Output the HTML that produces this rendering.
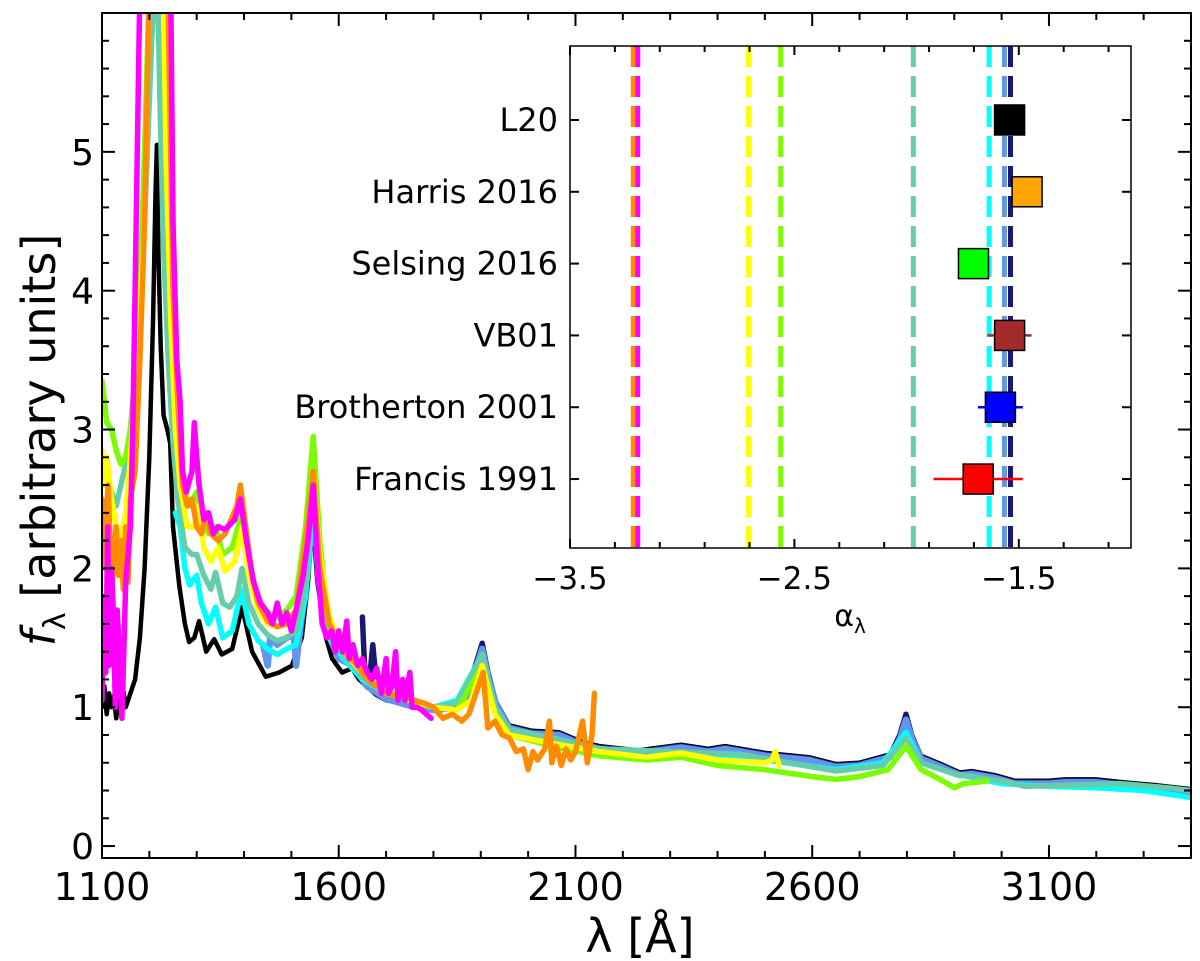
<!DOCTYPE html>
<html><head><meta charset="utf-8">
<style>
html,body{margin:0;padding:0;background:#fff;}
svg{display:block;font-family:"DejaVu Sans","Liberation Sans",sans-serif;}
</style></head>
<body>
<svg id="chart" width="1200" height="961" viewBox="0 0 1200 961" xmlns="http://www.w3.org/2000/svg">
<defs>
<clipPath id="mainclip"><rect x="102" y="13" width="1089" height="845"/></clipPath>
<clipPath id="insetclip"><rect x="570" y="46" width="561" height="502"/></clipPath>
</defs>
<g id="main"></g>
<g id="inset"></g>
</svg>
<script>
// ---------- main chart data ----------
const seriesNames = ['L20','navy-template','cornflower-template','cyan-template','aquamarine-template','green-template','yellow-template','orange-template','magenta-template'];
const seriesColors = ['#000000','#191970','#6495ed','#00ffff','#66cdaa','#7cfc00','#ffff00','#ff8c00','#ff00ff'];
const seriesWidths = [4.5,5.5,6.5,5.5,5.5,5.5,5.5,5.5,5.5];
const blackData = [[1100,1.00],[1105,1.15],[1110,0.95],[1115,1.1],[1120,1.0],[1125,1.08],[1130,0.92],[1135,1.05],[1140,0.98],[1145,1.12],[1150,1.0],[1160,1.1],[1170,1.2],[1180,1.5],[1190,2.0],[1200,2.8],[1208,3.8],[1213,4.7],[1216,5.05],[1219,4.3],[1224,3.6],[1230,3.1],[1238,3.0],[1244,2.9],[1250,2.3],[1263,1.88],[1275,1.6],[1284,1.47],[1295,1.5],[1305,1.62],[1320,1.40],[1337,1.49],[1353,1.38],[1375,1.42],[1396,1.72],[1417,1.40],[1446,1.22],[1474,1.25],[1501,1.30],[1522,1.5],[1535,1.9],[1545,2.36],[1555,1.9],[1573,1.5],[1586,1.35],[1607,1.25],[1628,1.28],[1643,1.2],[1679,1.09],[1700,1.05],[1748,1.02],[1800,0.99],[1833,1.0],[1869,1.09],[1890,1.25],[1903,1.43],[1915,1.25],[1932,1.04],[1960,0.87],[2008,0.83],[2065,0.82],[2114,0.75],[2150,0.72],[2232,0.69],[2323,0.73],[2380,0.70],[2416,0.72],[2502,0.67],[2593,0.64],[2650,0.59],[2699,0.60],[2764,0.66],[2785,0.78],[2798,0.93],[2810,0.8],[2830,0.65],[2872,0.59],[2912,0.53],[2937,0.54],[2986,0.51],[3028,0.47],[3100,0.47],[3134,0.48],[3199,0.48],[3256,0.46],[3322,0.44],[3400,0.41]];
const navyData = [[1650,1.65],[1655,1.25],[1665,1.2],[1672,1.45],[1680,1.15],[1700,1.07],[1750,1.02],[1800,0.99],[1830,1.0],[1870,1.09],[1903,1.46],[1915,1.25],[1932,1.03],[1960,0.86],[2008,0.82],[2065,0.81],[2114,0.74],[2150,0.71],[2232,0.68],[2323,0.72],[2380,0.69],[2416,0.71],[2502,0.66],[2593,0.63],[2650,0.58],[2699,0.59],[2764,0.65],[2785,0.8],[2798,0.95],[2810,0.8],[2830,0.64],[2872,0.58],[2912,0.52],[2937,0.53],[2986,0.50],[3028,0.46],[3100,0.46],[3134,0.47],[3199,0.47],[3256,0.45],[3322,0.43],[3400,0.40]];
const cornflowerData = [[1440,1.45],[1450,1.3],[1455,1.5],[1470,1.45],[1490,1.5],[1505,1.52],[1510,1.3],[1520,1.6],[1535,2.0],[1546,2.5],[1558,1.9],[1575,1.55],[1600,1.35],[1630,1.3],[1660,1.15],[1700,1.06],[1750,1.01],[1800,0.98],[1830,0.99],[1870,1.07],[1903,1.42],[1915,1.22],[1932,1.02],[1960,0.85],[2008,0.81],[2065,0.8],[2114,0.73],[2150,0.70],[2232,0.67],[2323,0.71],[2380,0.68],[2416,0.70],[2502,0.65],[2593,0.62],[2650,0.57],[2699,0.58],[2764,0.64],[2785,0.77],[2798,0.91],[2810,0.78],[2830,0.63],[2872,0.57],[2912,0.51],[2937,0.52],[2986,0.49],[3028,0.45],[3100,0.45],[3134,0.46],[3199,0.46],[3256,0.44],[3322,0.42],[3400,0.39]];
const cyanData = [[1255,2.4],[1265,2.3],[1275,2.0],[1285,1.88],[1300,1.95],[1310,1.75],[1325,1.6],[1340,1.72],[1355,1.5],[1375,1.55],[1395,1.85],[1410,1.6],[1430,1.48],[1450,1.42],[1470,1.38],[1490,1.42],[1510,1.45],[1530,1.8],[1546,2.5],[1560,1.9],[1580,1.5],[1610,1.35],[1650,1.2],[1700,1.1],[1750,1.05],[1800,1.0],[1850,1.05],[1903,1.38],[1930,1.0],[1960,0.84],[2050,0.78],[2150,0.70],[2300,0.68],[2500,0.62],[2650,0.55],[2750,0.6],[2798,0.82],[2830,0.6],[2900,0.52],[3000,0.45],[3100,0.43],[3200,0.42],[3300,0.40],[3400,0.35]];
const tealData = [[1100,2.7],[1110,2.6],[1120,2.55],[1130,2.45],[1140,2.6],[1150,2.75],[1160,3.0],[1175,3.6],[1190,4.5],[1205,5.8],[1216,6.5],[1222,5.4],[1230,4.3],[1240,3.5],[1250,2.9],[1260,2.5],[1275,2.15],[1290,2.1],[1300,2.1],[1315,1.95],[1330,1.85],[1340,1.97],[1355,1.75],[1370,1.72],[1385,1.8],[1396,2.0],[1410,1.75],[1430,1.6],[1450,1.52],[1470,1.48],[1490,1.5],[1510,1.55],[1530,1.9],[1546,2.6],[1560,1.95],[1580,1.55],[1610,1.38],[1650,1.22],[1700,1.1],[1750,1.05],[1800,1.0],[1850,1.03],[1903,1.38],[1930,1.0],[1960,0.84],[2050,0.78],[2150,0.7],[2300,0.68],[2450,0.66],[2550,0.6],[2650,0.54],[2750,0.58],[2798,0.78],[2830,0.6],[2900,0.52],[3000,0.47],[3050,0.43],[3150,0.44],[3250,0.45],[3350,0.42],[3400,0.40]];
const greenData = [[1100,3.35],[1105,3.2],[1110,3.05],[1120,3.0],[1130,2.85],[1140,2.75],[1150,2.8],[1160,3.0],[1170,3.3],[1180,4.0],[1190,5.0],[1200,6.2],[1216,7.0],[1230,6.2],[1240,4.5],[1250,3.4],[1260,2.9],[1270,2.6],[1285,2.45],[1300,2.55],[1310,2.35],[1325,2.25],[1340,2.3],[1355,2.1],[1375,2.15],[1396,2.4],[1410,2.0],[1430,1.75],[1450,1.68],[1470,1.65],[1490,1.7],[1510,1.8],[1530,2.3],[1546,2.95],[1560,2.2],[1575,1.7],[1600,1.45],[1640,1.3],[1650,1.25],[1700,1.12],[1750,1.05],[1800,1.0],[1850,0.98],[1903,1.3],[1930,0.95],[1960,0.8],[2050,0.72],[2150,0.65],[2250,0.62],[2323,0.64],[2400,0.58],[2500,0.55],[2600,0.5],[2650,0.48],[2700,0.5],[2760,0.55],[2798,0.72],[2830,0.55],[2870,0.48],[2900,0.42],[2920,0.45],[2950,0.46],[2970,0.47]];
const yellowData = [[1100,2.85],[1105,2.6],[1110,2.8],[1120,2.5],[1130,2.3],[1140,2.2],[1150,2.4],[1160,2.8],[1175,3.5],[1190,4.5],[1200,6.2],[1216,7.0],[1230,6.2],[1235,5.0],[1245,3.8],[1255,3.0],[1265,2.6],[1280,2.3],[1295,2.3],[1305,2.45],[1315,2.15],[1330,2.05],[1345,2.15],[1360,1.98],[1380,2.05],[1396,2.3],[1410,1.95],[1430,1.7],[1450,1.6],[1470,1.58],[1490,1.62],[1510,1.7],[1530,2.15],[1546,2.7],[1560,2.1],[1580,1.65],[1610,1.4],[1650,1.25],[1700,1.12],[1750,1.05],[1800,1.0],[1850,0.98],[1880,1.05],[1903,1.3],[1930,0.95],[1960,0.8],[2050,0.74],[2150,0.68],[2250,0.64],[2323,0.67],[2400,0.62],[2500,0.6],[2515,0.62],[2522,0.68],[2530,0.58]];
const orangeData = [[1100,2.5],[1103,2.2],[1106,2.0],[1110,2.4],[1113,2.6],[1117,2.2],[1120,1.8],[1125,2.1],[1130,2.3],[1135,1.95],[1140,2.2],[1145,1.85],[1150,2.3],[1155,1.9],[1160,2.5],[1170,2.7],[1180,3.5],[1190,4.5],[1200,6.2],[1216,7.0],[1240,6.0],[1250,4.0],[1260,3.2],[1270,2.6],[1280,2.45],[1290,2.5],[1300,2.3],[1310,2.25],[1320,2.4],[1330,2.25],[1345,2.2],[1360,2.25],[1385,2.45],[1392,2.6],[1400,2.4],[1415,2.0],[1430,1.75],[1450,1.62],[1470,1.58],[1490,1.6],[1510,1.7],[1530,2.2],[1546,2.7],[1560,2.0],[1580,1.6],[1610,1.4],[1640,1.3],[1660,1.2],[1680,1.15],[1700,1.1],[1720,1.08],[1750,1.06],[1780,1.03],[1800,1.0],[1820,0.92],[1840,0.95],[1860,0.9],[1875,0.95],[1890,1.1],[1905,1.25],[1910,1.05],[1915,0.85],[1930,0.9],[1945,0.8],[1960,0.78],[1975,0.68],[1990,0.7],[2000,0.55],[2010,0.68],[2020,0.62],[2035,0.7],[2045,0.9],[2050,0.6],[2060,0.72],[2070,0.58],[2080,0.7],[2090,0.62],[2100,0.68],[2115,0.9],[2125,0.6],[2135,0.8],[2140,1.1]];
const magentaData = [[1100,1.05],[1105,1.8],[1108,1.25],[1112,2.3],[1115,1.3],[1120,2.0],[1125,1.6],[1128,1.0],[1132,1.7],[1138,1.3],[1142,0.92],[1146,1.4],[1150,1.9],[1160,2.3],[1165,3.0],[1170,4.0],[1180,6.2],[1216,7.5],[1245,6.2],[1250,4.5],[1258,3.5],[1265,3.2],[1270,2.7],[1278,2.55],[1290,2.7],[1295,3.05],[1300,2.8],[1305,2.6],[1315,2.35],[1325,2.4],[1335,2.25],[1345,2.3],[1360,2.28],[1380,2.35],[1392,2.5],[1405,2.2],[1420,1.9],[1435,1.75],[1450,1.68],[1460,1.6],[1470,1.75],[1480,1.6],[1490,1.68],[1500,1.55],[1510,1.7],[1525,1.95],[1535,2.2],[1546,2.6],[1556,2.0],[1565,1.6],[1575,1.5],[1585,1.55],[1593,1.4],[1600,1.55],[1608,1.4],[1617,1.62],[1622,1.35],[1630,1.45],[1640,1.3],[1650,1.35],[1660,1.25],[1670,1.2],[1680,1.28],[1690,1.1],[1700,1.35],[1705,1.1],[1712,1.15],[1720,1.4],[1725,1.05],[1735,1.2],[1740,1.05],[1750,1.25],[1755,1.0],[1765,1.0],[1775,0.98],[1785,0.95],[1795,0.92]];
const seriesData = [blackData,navyData,cornflowerData,cyanData,tealData,greenData,yellowData,orangeData,magentaData];
const xTickLabels = [1100,1600,2100,2600,3100];
const yTickLabels = [0,1,2,3,4,5];

// ---------- inset data ----------
const insetCategories = ['Francis 1991','Brotherton 2001','VB01','Selsing 2016','Harris 2016','L20'];
const insetValues = [-1.681,-1.582,-1.541,-1.702,-1.463,-1.541];
const insetErrLow = [0.199,0.10,0.098,0,0,0];
const insetErrHigh = [0.199,0.10,0.098,0,0,0];
const insetColors = ['#ff0000','#0000ff','#a52a2a','#00ff00','#ffa500','#000000'];
const insetErrColors = ['#ff0000','#0000ff','#a52a2a','#00ff00','#ffa500','#000000'];
const vlineValues = [-3.218,-3.198,-2.704,-2.561,-1.970,-1.632,-1.564,-1.537];
const vlineColors = ['#ff8c00','#ff00ff','#ffff00','#7cfc00','#66cdaa','#00ffff','#6495ed','#191970'];
const insetXTicks = [-3.5,-2.5,-1.5];

const NS='http://www.w3.org/2000/svg';
function mk(tag, attrs, parent){const e=document.createElementNS(NS,tag);for(const k in attrs)e.setAttribute(k,attrs[k]);parent.appendChild(e);return e;}

// main axes
const M={l:102,r:1191,t:13,b:858,x0:1100,x1:3400,y0:-0.086,y1:6.0};
const xs=v=>M.l+(v-M.x0)/(M.x1-M.x0)*(M.r-M.l);
const ys=v=>M.b-(v-M.y0)/(M.y1-M.y0)*(M.b-M.t);
const main=document.getElementById('main');
const lines=mk('g',{'clip-path':'url(#mainclip)'},main);


seriesData.forEach((d,i)=>{
  const p=mk('path',{d:d.map((pt,j)=>(j?'L':'M')+xs(pt[0]).toFixed(1)+','+ys(pt[1]).toFixed(1)).join(''),fill:'none',stroke:seriesColors[i],'stroke-width':seriesWidths[i],'stroke-linejoin':'round','stroke-linecap':'round'},lines);
  
  
});
const frame=mk('rect',{x:M.l,y:M.t,width:M.r-M.l,height:M.b-M.t,fill:'none',stroke:'#000','stroke-width':2},main);


for(let v=1100;v<=3400;v+=100){
  const x=xs(v);const maj=(v-1100)%500===0;const L=maj?13:7;
  mk('line',{x1:x,x2:x,y1:M.b,y2:M.b-L,stroke:'#000','stroke-width':2},main);
  mk('line',{x1:x,x2:x,y1:M.t,y2:M.t+L,stroke:'#000','stroke-width':2},main);
}
xTickLabels.forEach(v=>{const t=mk('text',{x:xs(v),y:900,'font-size':38,'text-anchor':'middle'},main);t.textContent=v;
  
  });
for(let k=0;k<=30;k++){
  const v=k*0.2;const y=ys(v);const maj=k%5===0;const L=maj?13:7;
  mk('line',{x1:M.l,x2:M.l+L,y1:y,y2:y,stroke:'#000','stroke-width':2},main);
  mk('line',{x1:M.r,x2:M.r-L,y1:y,y2:y,stroke:'#000','stroke-width':2},main);
}
yTickLabels.forEach(v=>{const t=mk('text',{x:94,y:ys(v)+13,'font-size':36,'text-anchor':'end'},main);t.textContent=v;
  
  });
const xl=mk('text',{x:640,y:952,'font-size':46,'text-anchor':'middle'},main);xl.textContent='λ [Å]';


const yl=mk('text',{x:0,y:0,'font-size':46,'text-anchor':'middle',transform:'translate(55,440) rotate(-90)'},main);
yl.innerHTML='<tspan font-style="italic">f</tspan><tspan font-size="30" dy="10">λ</tspan><tspan dy="-10"> [arbitrary units]</tspan>';



// inset
const I={l:570,r:1131,t:46,b:548,x0:-3.5,x1:-1.0,y0:-0.96,y1:6.03};
const ix=v=>I.l+(v-I.x0)/(I.x1-I.x0)*(I.r-I.l);
const iy=v=>I.b-(v-I.y0)/(I.y1-I.y0)*(I.b-I.t);
const inset=document.getElementById('inset');
const bg=mk('rect',{x:I.l,y:I.t,width:I.r-I.l,height:I.b-I.t,fill:'#fff',stroke:'none'},inset);


const ig=mk('g',{'clip-path':'url(#insetclip)'},inset);
vlineValues.forEach((v,i)=>{const l=mk('line',{x1:ix(v),x2:ix(v),y1:I.t,y2:I.b,stroke:vlineColors[i],'stroke-width':5,'stroke-dasharray':'21,9'},ig);
  
  });
insetCategories.forEach((c,i)=>{
  const y=iy(i);
  if(insetErrLow[i]>0){const e=mk('line',{x1:ix(insetValues[i]-insetErrLow[i]),x2:ix(insetValues[i]+insetErrHigh[i]),y1:y,y2:y,stroke:insetErrColors[i],'stroke-width':2.5},ig);
    
    }
  const s=mk('rect',{x:ix(insetValues[i])-15,y:y-15,width:30,height:30,fill:insetColors[i],stroke:'#000','stroke-width':1.5},ig);
  
  
  mk('line',{x1:I.l,x2:I.l+9,y1:y,y2:y,stroke:'#000','stroke-width':2},inset);
  mk('line',{x1:I.r,x2:I.r-9,y1:y,y2:y,stroke:'#000','stroke-width':2},inset);
  const t=mk('text',{x:I.l-12,y:y+11,'font-size':32,'text-anchor':'end'},inset);t.textContent=c;
  
  
});
for(let k=0;k<=12;k++){
  const v=-3.5+k*0.2;const x=ix(v);const maj=Math.abs(((v+3.5)*10)%10)<0.01;const L=maj?9:6;
  mk('line',{x1:x,x2:x,y1:I.b,y2:I.b-L,stroke:'#000','stroke-width':2},inset);
  mk('line',{x1:x,x2:x,y1:I.t,y2:I.t+L,stroke:'#000','stroke-width':2},inset);
}
insetXTicks.forEach(v=>{const t=mk('text',{x:ix(v),y:589,'font-size':31,'text-anchor':'middle'},inset);t.textContent='\u2212'+Math.abs(v).toFixed(1);
  
  });
const iframe=mk('rect',{x:I.l,y:I.t,width:I.r-I.l,height:I.b-I.t,fill:'none',stroke:'#000','stroke-width':1.5},inset);


const ixl=mk('text',{x:850,y:626,'font-size':30,'text-anchor':'middle'},inset);
ixl.innerHTML='α<tspan font-size="20" dy="7">λ</tspan>';


</script>
</body></html>
